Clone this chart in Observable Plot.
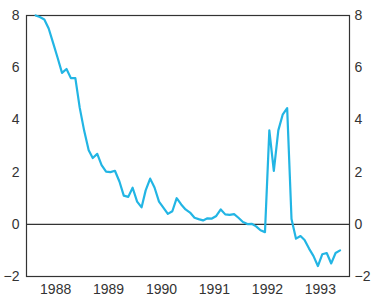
<!DOCTYPE html>
<html>
<head>
<meta charset="utf-8">
<script src="https://cdn.jsdelivr.net/npm/d3@7"></script>
<script src="https://cdn.jsdelivr.net/npm/@observablehq/plot@0.6"></script>
<style>
  html, body { margin: 0; padding: 0; background: #fff; }
  #chart svg { display: block; }
</style>
</head>
<body>
<div id="chart"></div>
<script>
// Monthly series, Feb 1988 – Nov 1993
const startYear = 1988;
const startMonth = 1; // February (0-based)
const values = [
  8.0, 7.94, 7.85, 7.5, 6.94, 6.39, 5.8, 5.95, 5.6, 5.6,
  4.47, 3.58, 2.84, 2.54, 2.7, 2.27, 2.02, 2.0, 2.05, 1.64,
  1.1, 1.05, 1.4, 0.87, 0.65, 1.3, 1.75, 1.41, 0.87, 0.64,
  0.4, 0.5, 1.0, 0.76, 0.57, 0.45, 0.25, 0.2, 0.15, 0.23,
  0.22, 0.32, 0.57, 0.38, 0.36, 0.39, 0.25, 0.09, 0.01, 0.02,
  -0.08, -0.23, -0.3, 3.6, 2.05, 3.6, 4.2, 4.45, 0.2, -0.55,
  -0.45, -0.6, -0.93, -1.21, -1.6, -1.15, -1.1, -1.5, -1.1, -1.0
];
const yearLabels = ["1988", "1989", "1990", "1991", "1992", "1993"];
const yTicks = [-2, 0, 2, 4, 6, 8];

const data = values.map((v, i) => ({
  date: new Date(Date.UTC(startYear, startMonth + i, 15)),
  value: v
}));
const yearTicks = yearLabels.map(y => new Date(Date.UTC(+y, 6, 2)));

const chart = Plot.plot({
  width: 371,
  height: 297,
  marginLeft: 26,
  marginRight: 22,
  marginTop: 15,
  marginBottom: 21,
  style: { fontFamily: "'Liberation Sans', Arial, sans-serif", fontSize: "14px", color: "#333", background: "#fff" },
  x: { type: "utc", domain: [new Date(Date.UTC(1987, 11, 14)), new Date(Date.UTC(1994, 0, 19))] },
  y: { domain: [-2, 8] },
  marks: [
    Plot.axisX({ ticks: yearTicks, tickFormat: d => String(d.getUTCFullYear()), tickSize: 0, tickPadding: 8, label: null, fontSize: 14 }),
    Plot.axisY({ anchor: "left", ticks: yTicks, tickSize: 0, tickPadding: 7, label: null, fontSize: 14 }),
    Plot.axisY({ anchor: "right", ticks: yTicks, tickSize: 0, tickPadding: 5, label: null, fontSize: 14 }),
    Plot.ruleY([0], { stroke: "#333", strokeWidth: 1.2 }),
    Plot.frame({ stroke: "#333", strokeWidth: 1.2 }),
    Plot.line(data, { x: "date", y: "value", stroke: "#22b5e4", strokeWidth: 2.2, strokeLinejoin: "round" })
  ]
});
document.getElementById("chart").appendChild(chart);
</script>
</body>
</html>
